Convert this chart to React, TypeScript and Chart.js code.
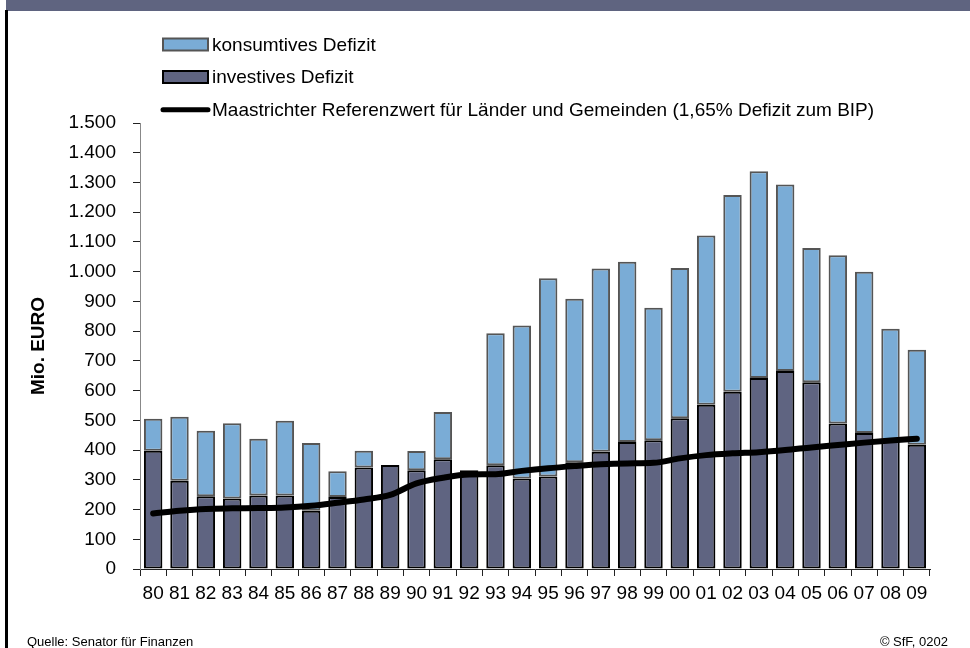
import React, { useEffect, useRef } from "react";
import { Chart, registerables } from "chart.js";

Chart.register(...registerables);

const years = ["80","81","82","83","84","85","86","87","88","89","90","91","92","93","94","95","96","97","98","99","00","01","02","03","04","05","06","07","08","09"];
const investiv = [398,297,245,237,247,247,196,242,341,350,332,369,332,349,304,311,359,394,427,433,507,552,596,642,666,628,489,457,433,418];
const konsumtiv = [107,215,220,253,191,252,228,87,57,0,65,159,0,444,515,667,550,617,606,446,505,570,662,696,627,452,566,543,375,319];
const referenzwert = [187,196,202,204,205,207,213,223,234,249,288,307,318,319,330,339,346,352,355,357,372,383,389,393,400,409,417,425,432,438];

const labelKons = "konsumtives Defizit";
const labelInv = "investives Defizit";
const labelRef = "Maastrichter Referenzwert für Länder und Gemeinden (1,65% Defizit zum BIP)";
const yTitle = "Mio. EURO";

const FONT = "'Liberation Sans', Arial, Helvetica, sans-serif";
const DARK = "#5f6481";
const LIGHT = "#7aacd6";

function fmt(v: number): string {
  const s = String(Math.round(v));
  return s.length > 3 ? s.slice(0, s.length - 3) + "." + s.slice(s.length - 3) : s;
}

const legendPlugin = {
  id: "stackLegend",
  afterDraw(chart: any) {
    const ctx = chart.ctx;
    const ds = chart.data.datasets;
    const entries = [
      { d: ds[2], y: 44.5, kind: "box" },
      { d: ds[1], y: 77, kind: "box" },
      { d: ds[0], y: 109.7, kind: "line" },
    ];
    ctx.save();
    ctx.font = `19px ${FONT}`;
    ctx.textBaseline = "middle";
    ctx.textAlign = "left";
    for (const e of entries) {
      if (e.kind === "box") {
        ctx.fillStyle = e.d.backgroundColor;
        ctx.fillRect(163, e.y - 6, 45, 12);
        ctx.lineWidth = 2;
        ctx.strokeStyle = e.d.borderColor;
        ctx.strokeRect(163, e.y - 6, 45, 12);
      } else {
        ctx.strokeStyle = e.d.borderColor;
        ctx.lineWidth = 5;
        ctx.lineCap = "round";
        ctx.beginPath();
        ctx.moveTo(163, e.y);
        ctx.lineTo(208, e.y);
        ctx.stroke();
      }
      ctx.fillStyle = "#000";
      ctx.fillText(e.d.label, 212, e.y + 1);
    }
    ctx.restore();
  },
};

export default function App() {
  const ref = useRef<HTMLCanvasElement | null>(null);

  useEffect(() => {
    if (!ref.current) return;
    const chart = new Chart(ref.current, {
      type: "bar",
      data: {
        labels: years,
        datasets: [
          {
            type: "line",
            label: labelRef,
            data: referenzwert,
            borderColor: "#000",
            borderWidth: 6,
            pointRadius: 0,
            tension: 0.4,
            cubicInterpolationMode: "monotone",
            borderCapStyle: "round",
            borderJoinStyle: "round",
            stack: "line",
            order: 0,
          } as any,
          {
            type: "bar",
            label: labelInv,
            data: investiv,
            backgroundColor: DARK,
            borderColor: "#000",
            borderWidth: 2,
            borderSkipped: false,
            barPercentage: 0.7,
            categoryPercentage: 1,
            stack: "bars",
            order: 1,
          },
          {
            type: "bar",
            label: labelKons,
            data: konsumtiv,
            backgroundColor: LIGHT,
            borderColor: "#555",
            borderWidth: 2,
            borderSkipped: false,
            barPercentage: 0.7,
            categoryPercentage: 1,
            stack: "bars",
            order: 2,
          },
        ],
      },
      options: {
        animation: false,
        responsive: false,
        maintainAspectRatio: false,
        layout: { padding: { top: 123, right: 40, left: 0, bottom: 0 } },
        plugins: { legend: { display: false }, tooltip: { enabled: false } },
        scales: {
          x: {
            stacked: true,
            grid: { display: true, drawOnChartArea: false, drawTicks: true, tickLength: 7, offset: true, color: "#222", lineWidth: 1 },
            border: { display: true, color: "#222", width: 1 },
            ticks: { color: "#000", font: { family: FONT, size: 19 }, padding: 6, maxRotation: 0, autoSkip: false },
            afterFit: (s: any) => { s.height = 79; },
          },
          y: {
            stacked: true,
            min: 0,
            max: 1500,
            grid: { display: true, drawOnChartArea: false, drawTicks: true, tickLength: 7, color: "#222", lineWidth: 1 },
            border: { display: true, color: "#888", width: 1 },
            ticks: { stepSize: 100, color: "#000", font: { family: FONT, size: 19 }, padding: 17, callback: (v: any) => fmt(Number(v)) },
            title: { display: true, text: yTitle, color: "#000", font: { family: FONT, size: 19, weight: "bold" }, padding: { top: 27, bottom: 0 } },
            afterFit: (s: any) => { s.width = 140; },
          },
        },
      },
      plugins: [legendPlugin],
    });
    return () => chart.destroy();
  }, []);

  return (
    <div style={{ position: "fixed", left: 0, top: 0, width: 970, height: 648, background: "#fff", overflow: "hidden" }}>
      <div style={{ position: "absolute", left: 6, top: 0, width: 964, height: 11, background: "#5f6480" }} />
      <div style={{ position: "absolute", left: 5, top: 10, width: 2.5, height: 638, background: "#000" }} />
      <canvas ref={ref} width={970} height={648} style={{ position: "absolute", left: 0, top: 0, width: 970, height: 648 }} />
      <div style={{ position: "absolute", left: 27, top: 634, fontFamily: FONT, fontSize: 13, lineHeight: "16px", color: "#000", whiteSpace: "nowrap" }}>Quelle: Senator für Finanzen</div>
      <div style={{ position: "absolute", right: 22, top: 634, fontFamily: FONT, fontSize: 13, lineHeight: "16px", color: "#000", whiteSpace: "nowrap" }}>© SfF, 0202</div>
    </div>
  );
}
